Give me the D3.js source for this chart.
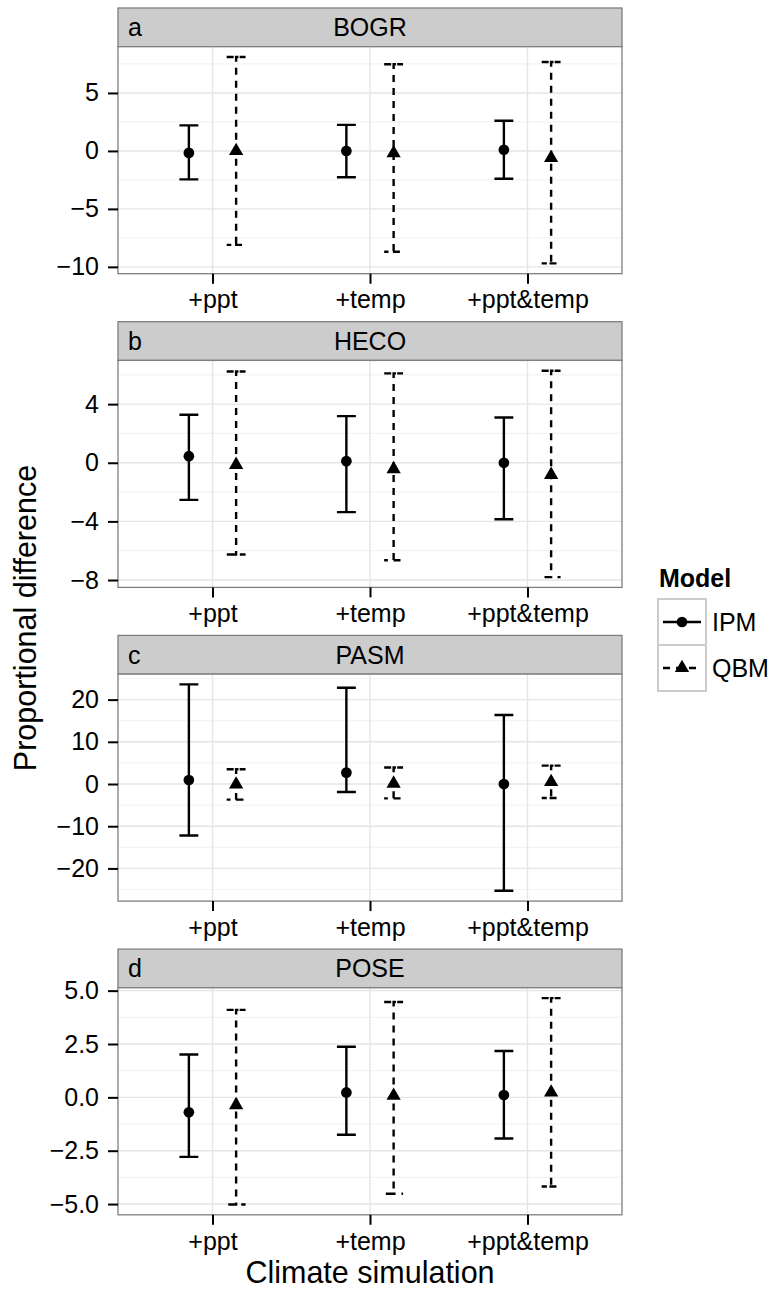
<!DOCTYPE html>
<html>
<head>
    <meta charset="utf-8">
    <title>Proportional difference by climate simulation</title>
    <script src="https://cdn.jsdelivr.net/npm/d3@7"></script>
    <style>
        body { margin: 0; background: white; }
        svg { display: block; font-family: "Liberation Sans", Arial, sans-serif; }
    </style>
</head>
<body>
<div id="chart"></div>
<script>

    // values, one row per species, one entry per simulation
    const species = ["BOGR", "HECO", "PASM", "POSE"];
    const panelLetters = ["a", "b", "c", "d"];
    const simulations = ["+ppt", "+temp", "+ppt&temp"];
    const models = ["IPM", "QBM"];

    const ipmMean  = [[-0.17, 0.0, 0.1], [0.45, 0.11, 0.0], [0.95, 2.7, 0.0], [-0.7, 0.23, 0.11]];
    const ipmLower = [[-2.45, -2.27, -2.4], [-2.53, -3.37, -3.85], [-12.2, -1.9, -25.3], [-2.79, -1.75, -1.93]];
    const ipmUpper = [[2.2, 2.25, 2.6], [3.28, 3.18, 3.09], [23.6, 22.8, 16.35], [2.01, 2.37, 2.17]];

    const qbmMean  = [[0.0, -0.2, -0.6], [-0.14, -0.43, -0.82], [-0.1, 0.1, 0.5], [-0.36, 0.08, 0.23]];
    const qbmLower = [[-8.1, -8.7, -9.7], [-6.26, -6.65, -7.8], [-3.7, -3.4, -3.3], [-5.02, -4.52, -4.18]];
    const qbmUpper = [[8.1, 7.47, 7.67], [6.23, 6.1, 6.28], [3.5, 3.9, 4.35], [4.1, 4.47, 4.65]];

    const yTicks = [[-10, -5, 0, 5], [-8, -4, 0, 4], [-20, -10, 0, 10, 20], [-5, -2.5, 0, 2.5, 5]];
    const yTickLabels = [
        ["\u221210", "\u22125", "0", "5"],
        ["\u22128", "\u22124", "0", "4"],
        ["\u221220", "\u221210", "0", "10", "20"],
        ["\u22125.0", "\u22122.5", "0.0", "2.5", "5.0"]
    ];

    // layout
    var svgWidth = 773;
    var svgHeight = 1289;
    var panelLeft = 118;
    var panelWidth = 504;
    var firstStripTop = 8;
    var panelStep = 313.7;
    var stripHeight = 38.7;
    var plotHeight = 227;

    var tickFont = 25;
    var titleFont = 30.5;
    var barWidth = 2.4;
    var dashes = "7,6";

    var svg = d3.select('#chart').append('svg')
        .attr('width', svgWidth)
        .attr('height', svgHeight);

    const x = d3.scalePoint()
        .domain(simulations)
        .range([0, panelWidth])
        .padding(0.6);

    const dodge = d3.scalePoint()
        .domain(models)
        .range([-0.15 * x.step(), 0.15 * x.step()]);

    const capHalf = 0.06 * x.step();

    const symbolFor = {
        IPM: d3.symbol().type(d3.symbolCircle).size(90),
        QBM: d3.symbol().type(d3.symbolTriangle).size(88)
    };
    const dashFor = { IPM: null, QBM: dashes };

    function panelRows(p) {
        const rows = [];
        simulations.forEach((sim, i) => {
            rows.push({ sim, model: "IPM", mean: ipmMean[p][i], lo: ipmLower[p][i], hi: ipmUpper[p][i] });
            rows.push({ sim, model: "QBM", mean: qbmMean[p][i], lo: qbmLower[p][i], hi: qbmUpper[p][i] });
        });
        return rows;
    }

    species.forEach((sp, p) => {
        const top = firstStripTop + p * panelStep;
        const g = svg.append('g')
            .attr('transform', `translate(${panelLeft}, ${top})`);

        // strip
        g.append('rect')
            .attr('width', panelWidth)
            .attr('height', stripHeight)
            .style('fill', '#cccccc')
            .style('stroke', '#7f7f7f')
            .style('stroke-width', 1.3);

        g.append('text')
            .attr('x', 10)
            .attr('y', stripHeight / 2)
            .attr('dy', '0.36em')
            .style('font-size', tickFont + 'px')
            .text(panelLetters[p]);

        g.append('text')
            .attr('x', panelWidth / 2)
            .attr('y', stripHeight / 2)
            .attr('dy', '0.36em')
            .style('text-anchor', 'middle')
            .style('font-size', tickFont + 'px')
            .text(sp);

        const plot = g.append('g')
            .attr('transform', `translate(0, ${stripHeight})`);

        const rows = panelRows(p);
        const lo = d3.min(rows, d => d.lo);
        const hi = d3.max(rows, d => d.hi);
        const pad = (hi - lo) * 0.05;

        const y = d3.scaleLinear()
            .domain([lo - pad, hi + pad])
            .range([plotHeight, 0]);

        // minor grid halfway between ticks
        const ticks = yTicks[p];
        const step = ticks[1] - ticks[0];
        const minors = [ticks[0] - step / 2].concat(ticks.map(t => t + step / 2))
            .filter(v => v > y.domain()[0] && v < y.domain()[1]);

        plot.append('rect')
            .attr('width', panelWidth)
            .attr('height', plotHeight)
            .style('fill', 'white');

        plot.selectAll('.minor')
            .data(minors)
            .enter()
            .append('line')
                .attr('x1', 0)
                .attr('x2', panelWidth)
                .attr('y1', d => y(d))
                .attr('y2', d => y(d))
                .style('stroke', '#f3f3f3')
                .style('stroke-width', 1.2);

        plot.selectAll('.hgrid')
            .data(ticks)
            .enter()
            .append('line')
                .attr('x1', 0)
                .attr('x2', panelWidth)
                .attr('y1', d => y(d))
                .attr('y2', d => y(d))
                .style('stroke', '#e5e5e5')
                .style('stroke-width', 1.4);

        plot.selectAll('.vgrid')
            .data(simulations)
            .enter()
            .append('line')
                .attr('x1', d => x(d))
                .attr('x2', d => x(d))
                .attr('y1', 0)
                .attr('y2', plotHeight)
                .style('stroke', '#e5e5e5')
                .style('stroke-width', 1.4);

        // error bars, drawn as one path like ggplot does
        plot.selectAll('.bar')
            .data(rows)
            .enter()
            .append('path')
                .attr('d', d => {
                    const cx = x(d.sim) + dodge(d.model);
                    const l = cx - capHalf, r = cx + capHalf;
                    return `M${l},${y(d.hi)}H${r}H${cx}V${y(d.lo)}H${l}H${r}`;
                })
                .style('fill', 'none')
                .style('stroke', 'black')
                .style('stroke-width', barWidth)
                .style('stroke-dasharray', d => dashFor[d.model]);

        plot.selectAll('.pt')
            .data(rows)
            .enter()
            .append('path')
                .attr('transform', d => `translate(${x(d.sim) + dodge(d.model)}, ${y(d.mean)})`)
                .attr('d', d => symbolFor[d.model]())
                .style('fill', 'black');

        plot.append('rect')
            .attr('width', panelWidth)
            .attr('height', plotHeight)
            .style('fill', 'none')
            .style('stroke', '#7f7f7f')
            .style('stroke-width', 1.3);

        // axes
        const yAxis = plot.append('g')
            .call(d3.axisLeft(y)
                .tickValues(ticks)
                .tickFormat((d, i) => yTickLabels[p][i])
                .tickSize(10)
                .tickPadding(9));

        const xAxis = plot.append('g')
            .attr('transform', `translate(0, ${plotHeight})`)
            .call(d3.axisBottom(x)
                .tickSize(10)
                .tickPadding(7));

        [yAxis, xAxis].forEach(a => {
            a.select('.domain').remove();
            a.selectAll('.tick line').style('stroke', 'black').style('stroke-width', 2);
            a.selectAll('.tick text')
                .style('font-size', tickFont + 'px')
                .style('font-family', '"Liberation Sans", Arial, sans-serif')
                .style('fill', 'black');
        });
    });

    // axis titles
    svg.append('text')
        .attr('transform', 'translate(36, 618) rotate(-90)')
        .style('text-anchor', 'middle')
        .style('font-size', titleFont + 'px')
        .text('Proportional difference');

    svg.append('text')
        .attr('x', panelLeft + panelWidth / 2)
        .attr('y', 1282.5)
        .style('text-anchor', 'middle')
        .style('font-size', titleFont + 'px')
        .text('Climate simulation');

    // legend
    var keyLeft = 658, keyW = 48, keyH = 46, keyTop = 599;
    var legendGroup = svg.append('g');

    legendGroup.append('text')
        .attr('x', keyLeft + 1)
        .attr('y', 587)
        .style('font-size', tickFont + 'px')
        .style('font-weight', 'bold')
        .text('Model');

    const keys = legendGroup.selectAll('.legends')
        .data(models)
        .enter()
        .append('g')
            .attr('transform', (d, i) => `translate(${keyLeft}, ${keyTop + i * keyH})`);

    keys.append('rect')
        .attr('width', keyW)
        .attr('height', keyH)
        .style('fill', 'white')
        .style('stroke', '#cccccc')
        .style('stroke-width', 2);

    keys.append('line')
        .attr('x1', 5)
        .attr('x2', keyW - 5)
        .attr('y1', keyH / 2)
        .attr('y2', keyH / 2)
        .style('stroke', 'black')
        .style('stroke-width', barWidth)
        .style('stroke-dasharray', d => dashFor[d]);

    keys.append('path')
        .attr('transform', `translate(${keyW / 2}, ${keyH / 2})`)
        .attr('d', d => symbolFor[d]())
        .style('fill', 'black');

    keys.append('text')
        .attr('x', keyW + 6)
        .attr('y', keyH / 2)
        .attr('dy', '0.36em')
        .style('font-size', tickFont + 'px')
        .text(d => d);

</script>
</body>
</html>
